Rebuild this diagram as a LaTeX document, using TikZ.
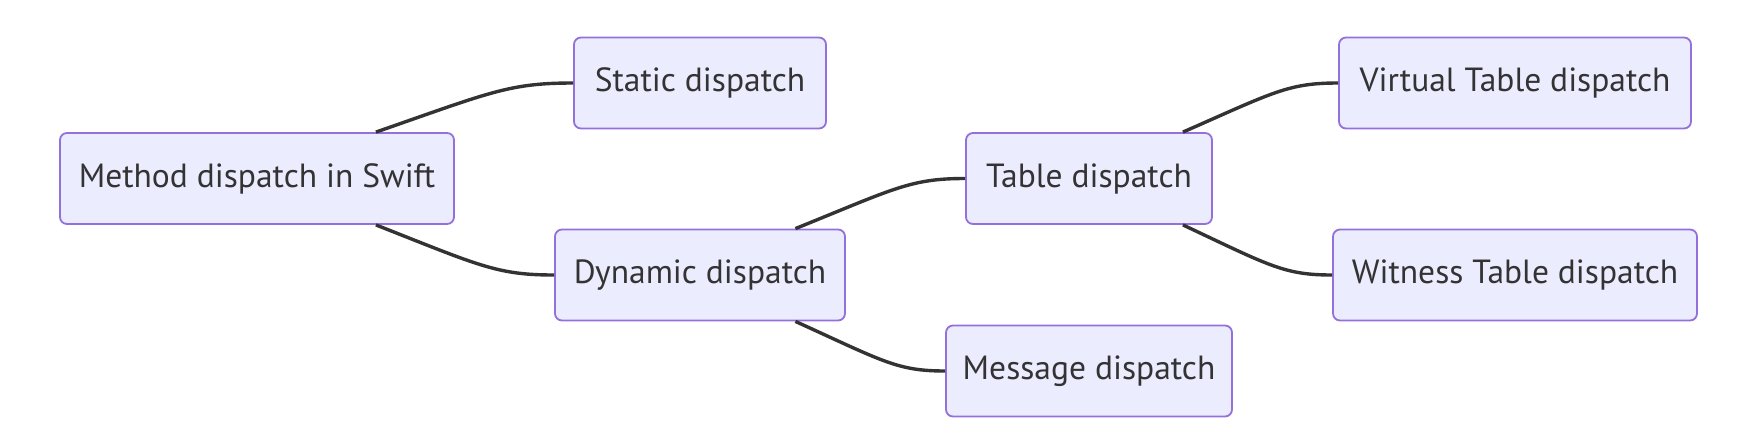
\documentclass[tikz,border=0pt]{standalone}
\usepackage{fontspec}
\setmainfont{PT Sans}
\usetikzlibrary{calc}
\definecolor{nodefill}{HTML}{ECECFF}
\definecolor{nodeborder}{HTML}{9370DB}
\definecolor{ink}{HTML}{333333}
\tikzset{
  box/.style={draw=nodeborder, fill=nodefill, line width=1.8pt, rounded corners=7pt,
    text=ink, font=\fontsize{33.5}{38}\selectfont, inner sep=0pt, minimum height=91pt},
  link/.style={draw=ink, line width=3.4pt}
}
\begin{document}
\begin{tikzpicture}[x=1pt,y=-1pt]
\useasboundingbox (0,0) rectangle (1760,440);
\node[box, minimum width=394pt] (M) at (257,178.5) {Method dispatch in Swift};
\node[box, minimum width=252pt] (S) at (700,83) {Static dispatch};
\node[box, minimum width=290pt] (D) at (700,275) {Dynamic dispatch};
\node[box, minimum width=246pt] (T) at (1089,178.5) {Table dispatch};
\node[box, minimum width=352pt] (V) at (1515,83) {Virtual Table dispatch};
\node[box, minimum width=364pt] (W) at (1515,275) {Witness Table dispatch};
\node[box, minimum width=286pt] (G) at (1089,371) {Message dispatch};
\coordinate (mt) at ($(M.north east)+(-79,0)$);
\coordinate (mb) at ($(M.south east)+(-79,0)$);
\coordinate (dt) at ($(D.north east)+(-50.5,0)$);
\coordinate (db) at ($(D.south east)+(-50.5,0)$);
\coordinate (tt) at ($(T.north east)+(-30,0)$);
\coordinate (tb) at ($(T.south east)+(-30,0)$);
\draw[link] (mt) .. controls +(115,-40) and +(-64,0) .. (S.west);
\draw[link] (mb) .. controls +(104,41) and +(-57,0) .. (D.west);
\draw[link] (dt) .. controls +(99,-40) and +(-55,0) .. (T.west);
\draw[link] (db) .. controls +(88,40) and +(-48,0) .. (G.west);
\draw[link] (tt) .. controls +(91,-40) and +(-50,0) .. (V.west);
\draw[link] (tb) .. controls +(87,41) and +(-48,0) .. (W.west);
\end{tikzpicture}
\end{document}
